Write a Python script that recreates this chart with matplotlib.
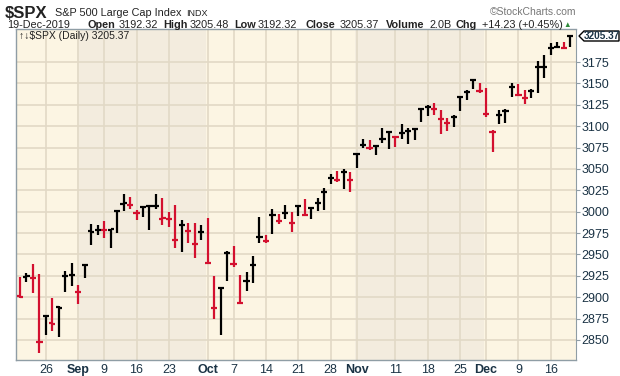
import numpy as np
import matplotlib
matplotlib.use('Agg')
import matplotlib.pyplot as plt
from matplotlib.patches import Polygon

plt.rcParams['font.family'] = ['Liberation Sans', 'DejaVu Sans']

# daily bars, 20-Aug-2019 .. 19-Dec-2019
dates = ['08-20', '08-21', '08-22', '08-23', '08-26', '08-27', '08-28', '08-29', '08-30',
         '09-03', '09-04', '09-05', '09-06', '09-09', '09-10', '09-11', '09-12', '09-13',
         '09-16', '09-17', '09-18', '09-19', '09-20', '09-23', '09-24', '09-25', '09-26',
         '09-27', '09-30',
         '10-01', '10-02', '10-03', '10-04', '10-07', '10-08', '10-09', '10-10', '10-11',
         '10-14', '10-15', '10-16', '10-17', '10-18', '10-21', '10-22', '10-23', '10-24',
         '10-25', '10-28', '10-29', '10-30', '10-31',
         '11-01', '11-04', '11-05', '11-06', '11-07', '11-08', '11-11', '11-12', '11-13',
         '11-14', '11-15', '11-18', '11-19', '11-20', '11-21', '11-22', '11-25', '11-26',
         '11-27', '11-29',
         '12-02', '12-03', '12-04', '12-05', '12-06', '12-09', '12-10', '12-11', '12-12',
         '12-13', '12-16', '12-17', '12-18', '12-19']

opens = [2901.0, 2924.0, 2923.0, 2847.5, 2878.5, 2869.5, 2888.0, 2924.5, 2926.5,
         2906.0, 2938.0, 2978.0, 2979.0, 2978.5, 2979.0, 3000.5, 3009.5, 3007.5,
         2998.0, 3005.5, 3006.5, 3007.0, 2992.0, 2992.0, 2966.5, 2985.0, 2977.5,
         2962.0, 2976.5,
         2940.5, 2887.5, 2910.5, 2952.0, 2939.0, 2893.0, 2919.5, 2938.0, 2970.3,
         2966.0, 2996.0, 2989.7, 2998.0, 2986.2, 3006.7, 2996.0, 3004.5, 3010.3,
         3022.5, 3039.4, 3036.9, 3046.8, 3037.6,
         3066.9, 3078.3, 3074.6, 3076.8, 3085.2, 3093.1, 3087.0, 3091.8, 3094.0,
         3096.6, 3120.5, 3122.0, 3120.2, 3108.5, 3103.5, 3110.3, 3133.6, 3140.5,
         3153.6, 3141.0,
         3113.9, 3093.2, 3113.5, 3117.4, 3145.9, 3136.0, 3132.5, 3141.6, 3168.6,
         3168.8, 3191.5, 3192.5, 3191.1, 3205.4]

highs = [2923.6, 2928.7, 2939.1, 2927.0, 2879.3, 2898.8, 2890.0, 2930.5, 2940.4,
         2914.4, 2938.8, 2985.9, 2985.0, 2989.4, 2979.4, 3000.9, 3020.7, 3017.3,
         3002.2, 3006.2, 3007.8, 3021.2, 3016.4, 2999.2, 3008.0, 2989.8, 2987.3,
         2987.3, 2983.9,
         2992.5, 2924.8, 2911.1, 2953.7, 2959.8, 2925.5, 2929.3, 2948.5, 2993.3,
         2972.8, 3003.3, 2997.5, 3008.3, 3000.0, 3007.3, 3014.6, 3004.8, 3016.1,
         3027.4, 3044.1, 3047.9, 3050.1, 3046.9,
         3067.0, 3085.2, 3084.0, 3078.3, 3097.8, 3093.1, 3088.3, 3102.6, 3098.1,
         3098.2, 3120.5, 3124.2, 3127.6, 3119.0, 3110.1, 3112.9, 3133.8, 3142.7,
         3154.3, 3150.3,
         3144.3, 3095.0, 3119.4, 3119.5, 3150.6, 3148.9, 3142.1, 3144.0, 3176.3,
         3182.7, 3197.7, 3198.2, 3198.5, 3205.5]

lows = [2899.6, 2917.9, 2904.5, 2835.0, 2856.0, 2860.6, 2853.1, 2905.7, 2913.3,
        2891.9, 2921.9, 2960.6, 2972.5, 2969.4, 2957.0, 2975.3, 3000.9, 3002.9,
        2990.7, 2993.7, 2978.6, 3003.2, 2984.7, 2982.2, 2957.7, 2952.9, 2963.7,
        2945.5, 2967.1,
        2938.7, 2874.9, 2855.9, 2918.6, 2935.7, 2892.7, 2907.4, 2917.1, 2963.1,
        2962.9, 2973.6, 2985.2, 2991.8, 2976.3, 2995.4, 2995.0, 2991.2, 3000.4,
        3001.9, 3032.1, 3034.8, 3026.0, 3023.2,
        3050.7, 3074.9, 3072.2, 3065.9, 3080.2, 3073.6, 3075.8, 3084.7, 3078.8,
        3083.3, 3104.6, 3112.1, 3113.5, 3091.4, 3094.6, 3099.3, 3117.4, 3131.0,
        3143.4, 3139.3,
        3110.8, 3070.3, 3102.5, 3103.8, 3134.6, 3135.5, 3126.1, 3133.2, 3138.5,
        3156.5, 3183.6, 3191.0, 3191.1, 3192.3]

closes = [2900.5, 2924.4, 2923.0, 2847.1, 2878.4, 2869.2, 2887.9, 2924.6, 2926.5,
          2906.3, 2937.8, 2976.0, 2978.7, 2978.4, 2979.4, 3000.9, 3009.6, 3007.4,
          2998.0, 3005.7, 3006.7, 3006.8, 2992.1, 2991.8, 2966.6, 2984.9, 2977.6,
          2961.8, 2976.7,
          2940.3, 2887.6, 2910.6, 2952.0, 2938.8, 2893.1, 2919.4, 2938.1, 2970.3,
          2966.2, 2995.7, 2989.7, 2998.0, 2986.2, 3006.7, 2996.0, 3004.5, 3010.3,
          3022.6, 3039.4, 3036.9, 3046.8, 3037.6,
          3066.9, 3078.3, 3074.6, 3076.8, 3085.2, 3093.1, 3087.0, 3091.8, 3094.0,
          3096.6, 3120.5, 3122.0, 3120.2, 3108.5, 3103.5, 3110.3, 3133.6, 3140.5,
          3153.6, 3141.0,
          3113.9, 3093.2, 3113.5, 3117.4, 3145.9, 3136.0, 3132.5, 3141.6, 3168.6,
          3168.8, 3191.5, 3192.5, 3191.1, 3205.4]
prev_close = 2923.65

# x axis labels
tick_dates = ['08-26', '09-03', '09-09', '09-16', '09-23', '10-01', '10-07', '10-14',
              '10-21', '10-28', '11-01', '11-11', '11-18', '11-25', '12-02', '12-09', '12-16']
tick_labels = ['26', 'Sep', '9', '16', '23', 'Oct', '7', '14',
               '21', '28', 'Nov', '11', '18', '25', 'Dec', '9', '16']
month_starts = ['09-03', '10-01', '11-01', '12-02']
yticks = [2850, 2875, 2900, 2925, 2950, 2975, 3000, 3025, 3050, 3075,
          3100, 3125, 3150, 3175]

W, H = 620, 376
fig = plt.figure(figsize=(W / 100, H / 100), dpi=100)
fig.patch.set_facecolor('white')

def fx(x):
    return x / W

def fy(y):
    return 1 - y / H

ax_l, ax_r, ax_t, ax_b = 16, 576, 29, 360
ax = fig.add_axes([fx(ax_l), fy(ax_b), (ax_r - ax_l) / W, (ax_b - ax_t) / H])

x = np.arange(len(dates))
pos = {d: i for i, d in enumerate(dates)}
ax.set_xlim(-0.62, 85.9)
ax.set_ylim(2826.6, 3213.6)

# month shading
light, dark = '#fcf5e3', '#f3ecde'
edges = [-0.62] + [pos[m] - 0.25 for m in month_starts] + [85.9]
for k in range(len(edges) - 1):
    ax.axvspan(edges[k], edges[k + 1], color=light if k % 2 == 0 else dark, lw=0, zorder=0)

grid_c = '#e2d9c6'
for d in tick_dates:
    ax.axvline(pos[d], color=grid_c, lw=1.2, zorder=1)
for v in yticks:
    ax.axhline(v, color=grid_c, lw=1.2, zorder=1)

# OHLC bars
prev = np.r_[prev_close, closes[:-1]]
cols = ['#d3102f' if c < p else 'black' for c, p in zip(closes, prev)]
lw = 1.6
ax.vlines(x, lows, highs, colors=cols, lw=lw, zorder=3)
ax.hlines(opens, x - 0.48, x, colors=cols, lw=lw, zorder=3)
ax.hlines(closes, x, x + 0.48, colors=cols, lw=lw, zorder=3)

# axes styling
ax.set_xticks([pos[d] for d in tick_dates])
ax.set_xticklabels(tick_labels)
for lab, t in zip(ax.get_xticklabels(), tick_labels):
    if not t.isdigit():
        lab.set_fontweight('bold')
ax.tick_params(axis='x', length=0, pad=3, labelsize=9, labelcolor='#1b3345')
ax.yaxis.tick_right()
ax.set_yticks(yticks)
ax.tick_params(axis='y', length=3, width=0.8, color='#8f9da5', pad=1,
               labelsize=9, labelcolor='#1b3345')
for s in ['left', 'bottom', 'top']:
    ax.spines[s].set_color('#8f9da5')
    ax.spines[s].set_linewidth(1)
ax.spines['right'].set_color('#8f9da5')
ax.spines['right'].set_linestyle((0, (1, 1)))

# inner title strip
ax.text(0.006, 0.995, '\u2191\u2193$SPX (Daily) 3205.37', transform=ax.transAxes,
        ha='left', va='top', fontsize=7.5, color='#222222', zorder=5)

# header
tc = '#222222'
fig.text(fx(5), fy(17.5), '$SPX', fontsize=12, fontweight='bold', color=tc)
fig.text(fx(55), fy(16.5), 'S&P 500 Large Cap Index', fontsize=7.8, color=tc)
fig.text(fx(186), fy(16.5), 'INDX', fontsize=6.5, color=tc)
fig.text(fx(576), fy(15), '\u00a9StockCharts.com', fontsize=7.5, color='#777777', ha='right')

line2 = [(7, '19-Dec-2019', 'normal'), (88, 'Open', 'bold'), (119, '3192.32', 'normal'),
         (163, 'High', 'bold'), (190, '3205.48', 'normal'), (234, 'Low', 'bold'),
         (258, '3192.32', 'normal'), (305, 'Close', 'bold'), (340, '3205.37', 'normal'),
         (386, 'Volume', 'bold'), (429, '2.0B', 'normal'), (456, 'Chg', 'bold'),
         (482, '+14.23 (+0.45%)', 'normal')]
for px_, s, w in line2:
    fig.text(fx(px_), fy(27.5), s, fontsize=7.8, fontweight=w, color=tc)
fig.text(fx(563), fy(27), '\u25b2', fontsize=5.5, color='#2e8b3a')

# last price marker
py = 36
poly = [(579, py), (584, py - 5), (619, py - 5), (619, py + 5), (584, py + 5)]
fig.patches.append(Polygon([(fx(a), fy(b)) for a, b in poly], closed=True,
                           transform=fig.transFigure, facecolor='white',
                           edgecolor='black', lw=1, zorder=5))
fig.text(fx(601.5), fy(py), '3205.37', fontsize=7.2, fontweight='bold',
         ha='center', va='center', color='#1b3345', zorder=6)

fig.savefig('out.png', dpi=100)
